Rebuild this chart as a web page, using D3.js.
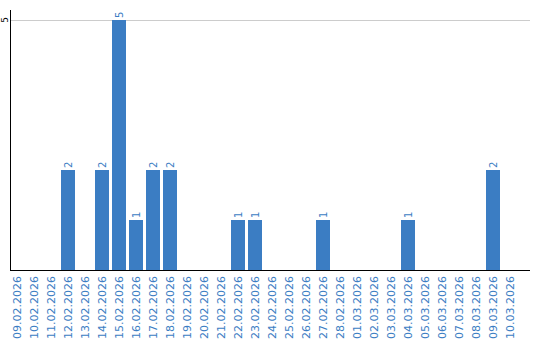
<!DOCTYPE html>
<html><head><meta charset="utf-8">
<script src="https://cdn.jsdelivr.net/npm/d3@7"></script>
<style>body{margin:0;background:#fff}svg{display:block}</style>
</head><body>
<svg id="c" width="540" height="340"></svg>
<script>
const categories = ["09.02.2026","10.02.2026","11.02.2026","12.02.2026","13.02.2026","14.02.2026","15.02.2026","16.02.2026","17.02.2026","18.02.2026","19.02.2026","20.02.2026","21.02.2026","22.02.2026","23.02.2026","24.02.2026","25.02.2026","26.02.2026","27.02.2026","28.02.2026","01.03.2026","02.03.2026","03.03.2026","04.03.2026","05.03.2026","06.03.2026","07.03.2026","08.03.2026","09.03.2026","10.03.2026"];
const values = [0,0,0,2,0,2,5,1,2,2,0,0,0,1,1,0,0,0,1,0,0,0,0,1,0,0,0,0,2,0];
const yTicks = [5];

const svg = d3.select("#c");
const blue = "#3b7dc3";
const x = d3.scaleBand().domain(categories).range([10, 517]).paddingInner(3/17).paddingOuter(0);
const y = d3.scaleLinear().domain([0, 5]).range([270, 20]);

// gridline
svg.selectAll("line.grid").data(yTicks).enter().append("line")
  .attr("x1", 10).attr("x2", 530).attr("y1", d => y(d)).attr("y2", d => y(d))
  .attr("stroke", "#cccccc").attr("stroke-width", 1).attr("shape-rendering", "crispEdges");

// bars
const data = categories.map((c, i) => ({c, v: values[i]}));
svg.selectAll("rect.bar").data(data.filter(d => d.v > 0)).enter().append("rect")
  .attr("x", d => x(d.c)).attr("width", x.bandwidth())
  .attr("y", d => y(d.v)).attr("height", d => y(0) - y(d.v))
  .attr("fill", blue);

// value labels
svg.selectAll("text.val").data(data.filter(d => d.v > 0)).enter().append("text")
  .attr("transform", d => `translate(${x(d.c) + x.bandwidth()/2 + 0.5},${y(d.v) - 2}) rotate(-90)`)
  .attr("dominant-baseline", "central")
  .attr("font-family", "DejaVu Sans").attr("font-size", 10).attr("fill", blue)
  .text(d => d.v);

// y axis
svg.append("line").attr("x1", 10.5).attr("x2", 10.5).attr("y1", 10).attr("y2", 270)
  .attr("stroke", "#000").attr("stroke-width", 1);
svg.selectAll("text.ytick").data(yTicks).enter().append("text")
  .attr("transform", d => `translate(5,${y(d)}) rotate(-90)`)
  .attr("text-anchor", "middle").attr("dominant-baseline", "central")
  .attr("font-family", "DejaVu Sans").attr("font-size", 9).attr("fill", "#000")
  .text(d => d);

// x axis
svg.append("line").attr("x1", 10).attr("x2", 530).attr("y1", 270.5).attr("y2", 270.5)
  .attr("stroke", "#000").attr("stroke-width", 1);
svg.selectAll("text.xtick").data(categories).enter().append("text")
  .attr("transform", d => `translate(${x(d) + x.bandwidth()/2},276) rotate(-90)`)
  .attr("text-anchor", "end").attr("dominant-baseline", "central")
  .attr("font-family", "DejaVu Sans").attr("font-size", 11).attr("fill", blue)
  .text(d => d);
</script>
</body></html>
